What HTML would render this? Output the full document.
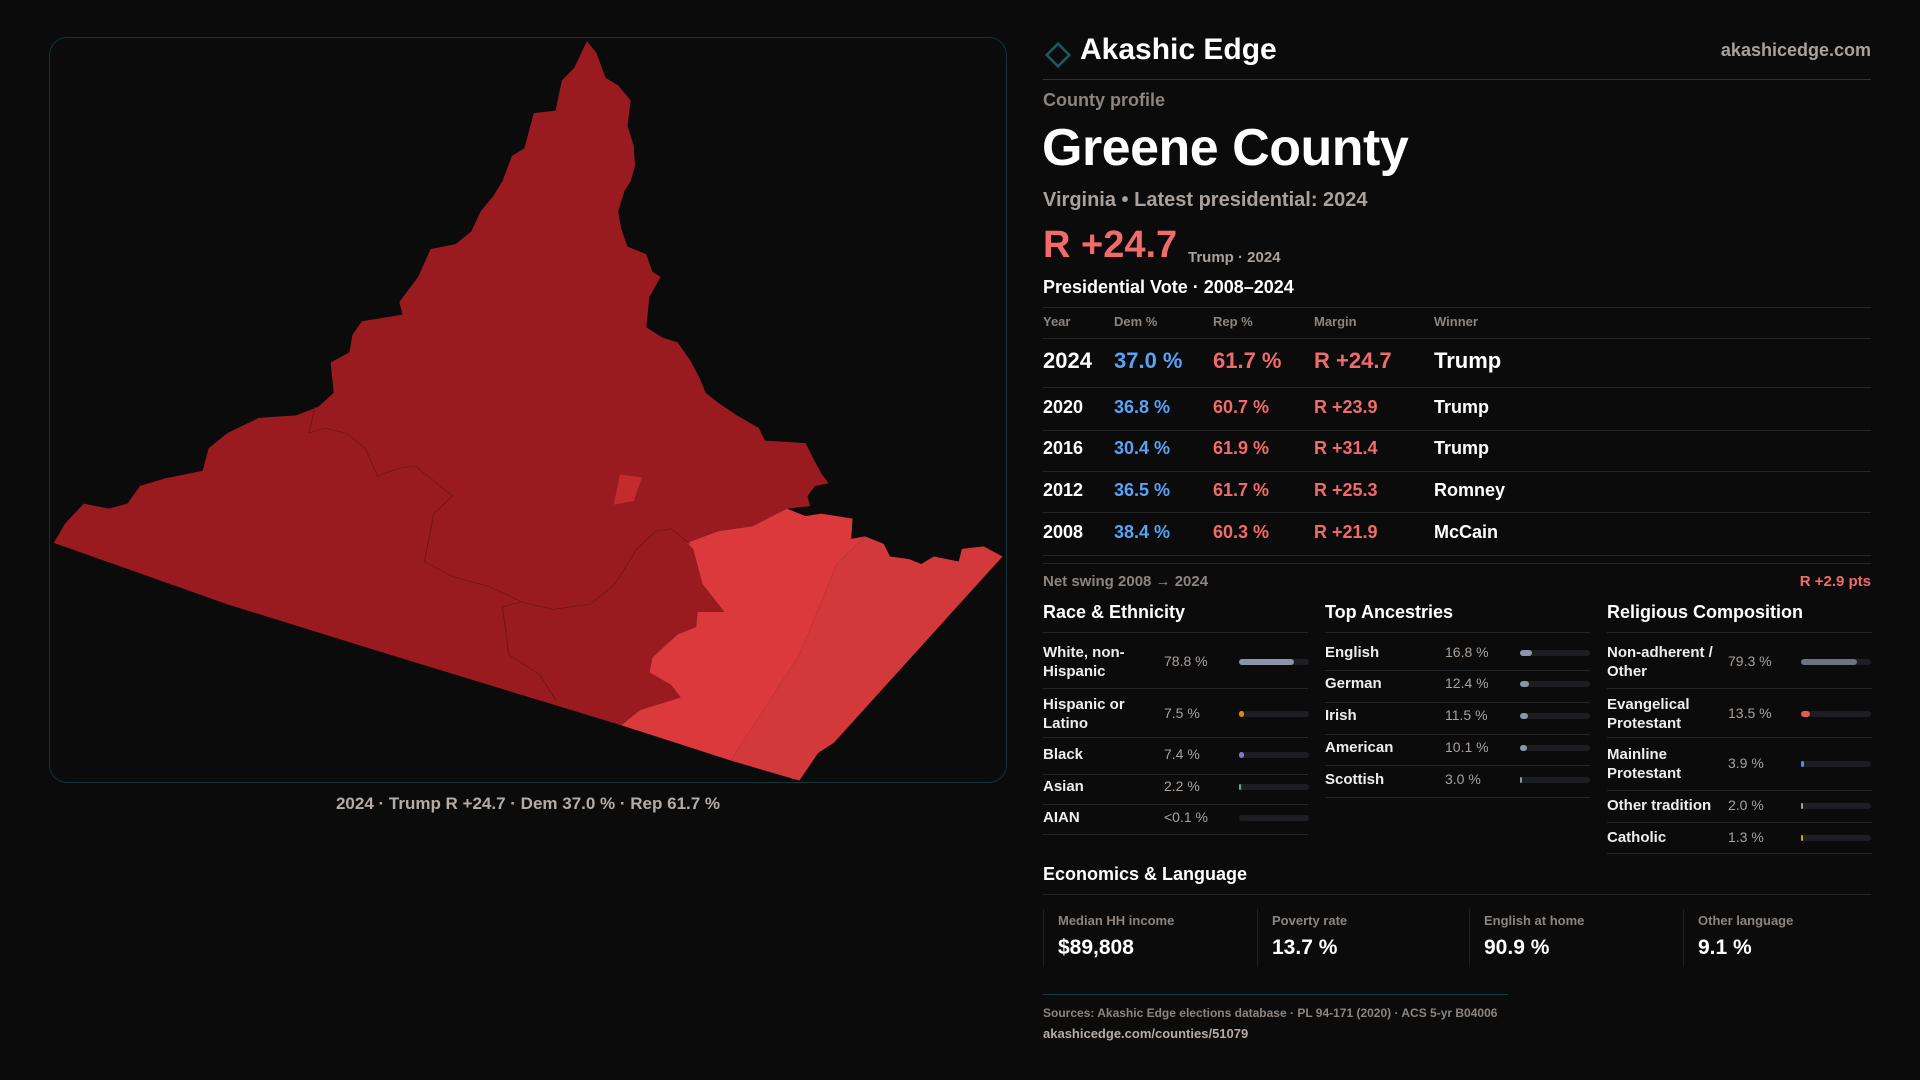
<!DOCTYPE html>
<html><head><meta charset="utf-8"><style>
*{margin:0;padding:0;box-sizing:border-box}
body{width:1920px;height:1080px;background:#0b0b0c;font-family:"Liberation Sans",sans-serif;color:#f2f2f2;position:relative;overflow:hidden}
.a{position:absolute;white-space:nowrap}
.hl{position:absolute;height:1px;background:#24262a}
.lbl{font-size:15px;font-weight:bold;color:#eee;line-height:19px}
.val{font-size:14px;color:#a9a19b}
.track{position:absolute;height:6px;border-radius:3px;background:#1c1e22}
.fill{position:absolute;left:0;top:0;height:6px;border-radius:3px}
</style></head><body>
<div class="a" style="left:49px;top:37px;width:958px;height:746px;border:1px solid #12343a;border-radius:18px;background:#0b0b0c"></div>
<svg class="a" style="left:0;top:0" width="1920" height="1080">
<g transform="translate(40,30) scale(0.625,0.5038)">
<polygon fill="#9a1b1f" points="875,22 890,45 905,95 925,110 945,140 940,190 950,230 952,270 945,300 935,320 925,360 930,395 940,430 970,445 980,480 993,490 975,530 970,590 995,610 1020,620 1040,655 1055,690 1065,720 1085,740 1115,765 1150,790 1160,815 1225,820 1235,845 1250,880 1262,900 1240,905 1228,925 1232,945 1195,950 1140,985 1085,995 1035,1018 1045,1030 1060,1100 1095,1155 1052,1155 1050,1185 1020,1200 980,1245 975,1275 1010,1300 1025,1325 960,1350 930,1380 560,1240 300,1140 22,1018 40,980 70,940 110,950 140,940 160,905 200,890 260,875 270,830 300,800 350,770 410,765 445,748 470,720 465,660 495,640 500,605 515,578 580,565 575,540 605,490 625,435 665,425 690,400 705,360 725,330 740,300 755,250 775,235 790,165 825,160 835,100 855,75"/>
<polygon fill="#dc393c" points="1035,1018 1085,995 1140,985 1195,950 1225,965 1250,960 1300,970 1298,1010 1320,1005 1275,1060 1215,1240 1105,1450 930,1380 960,1350 1025,1325 1010,1300 975,1275 980,1245 1020,1200 1050,1185 1052,1155 1095,1155 1060,1100 1045,1030"/>
<polygon fill="#d3383a" points="1320,1005 1350,1020 1360,1045 1390,1050 1410,1060 1430,1045 1470,1055 1475,1030 1510,1025 1540,1045 1270,1415 1245,1435 1215,1490 1105,1450 1215,1240 1275,1060"/>
<polygon fill="#c52b2d" points="928,882 963,888 950,935 918,942"/>
<polyline fill="none" stroke="#6e1416" stroke-width="1.5" points="440,748 430,800 455,790 490,800 520,830 540,885 575,870 600,865 660,925 630,960 615,1055 660,1085 720,1105 770,1135 820,1150 880,1140 920,1100 955,1030 985,995 1010,990 1040,1020"/>
<polyline fill="none" stroke="#6e1416" stroke-width="1.5" points="770,1135 740,1145 750,1240 800,1280 825,1330"/>
</g></svg>
<div class="a" style="left:0;width:1056px;top:794px;text-align:center;font-size:17px;font-weight:bold;color:#b5aca5">2024 · Trump R +24.7 · Dem 37.0 % · Rep 61.7 %</div>

<svg class="a" style="left:1043px;top:40px" width="30" height="30"><rect x="7" y="7" width="16" height="16" transform="rotate(45 15 15)" fill="none" stroke="#1b5a63" stroke-width="2.5"/></svg>
<div class="a" style="left:1080px;top:33px;font-size:30px;font-weight:bold;color:#fff">Akashic Edge</div>
<div class="a" style="right:49px;top:40px;font-size:18px;font-weight:bold;color:#a9a19b">akashicedge.com</div>
<div class="hl" style="left:1043px;width:828px;top:79px;background:#123d45"></div>
<div class="a" style="left:1043px;top:90px;font-size:18px;font-weight:bold;color:#8c857f">County profile</div>
<div class="a" style="left:1042px;top:118px;font-size:52px;font-weight:bold;color:#fff;letter-spacing:-0.5px">Greene County</div>
<div class="a" style="left:1043px;top:189px;font-size:20px;font-weight:bold;color:#a9a19b">Virginia • Latest presidential: 2024</div>
<div class="a" style="left:1043px;top:224px;font-size:38px;font-weight:bold;color:#f26b6b">R +24.7</div>
<div class="a" style="left:1188px;top:249px;font-size:15px;font-weight:bold;color:#a9a19b">Trump · 2024</div>
<div class="a" style="left:1043px;top:277px;font-size:18px;font-weight:bold;color:#fff">Presidential Vote · 2008–2024</div>
<div class="hl" style="left:1043px;width:828px;top:307px"></div>
<div id="tbl"></div>
<div class="hl" style="left:1043px;width:828px;top:563px"></div>
<div class="a" style="left:1043px;top:573px;font-size:15px;font-weight:bold;color:#8c857f">Net swing 2008 → 2024</div>
<div class="a" style="right:49px;top:573px;font-size:15px;font-weight:bold;color:#f26b6b">R +2.9 pts</div>
<div id="sections"></div>

<div class="a" style="left:1043px;top:864px;font-size:18px;font-weight:bold;color:#fff">Economics &amp; Language</div>
<div class="hl" style="left:1043px;width:828px;top:894px"></div>
<div id="econ"></div>
<div class="hl" style="left:1043px;width:465px;top:994px;background:#123d45"></div>
<div class="a" style="left:1043px;top:1006px;font-size:12px;font-weight:bold;color:#8c857f">Sources: Akashic Edge elections database · PL 94-171 (2020) · ACS 5-yr B04006</div>
<div class="a" style="left:1043px;top:1026px;font-size:13px;font-weight:bold;color:#b5aca5">akashicedge.com/counties/51079</div>

<script>
const years=[2024,2020,2016,2012,2008];
const demPct=[37.0,36.8,30.4,36.5,38.4];
const repPct=[61.7,60.7,61.9,61.7,60.3];
const margins=[24.7,23.9,31.4,25.3,21.9];
const winners=["Trump","Trump","Trump","Romney","McCain"];
const raceLabels=["White, non-Hispanic","Hispanic or Latino","Black","Asian","AIAN"];
const raceValues=[78.8,7.5,7.4,2.2,0.05];
const raceText=["78.8 %","7.5 %","7.4 %","2.2 %","<0.1 %"];
const ancLabels=["English","German","Irish","American","Scottish"];
const ancValues=[16.8,12.4,11.5,10.1,3.0];
const relLabels=["Non-adherent / Other","Evangelical Protestant","Mainline Protestant","Other tradition","Catholic"];
const relValues=[79.3,13.5,3.9,2.0,1.3];
const econLabels=["Median HH income","Poverty rate","English at home","Other language"];
const econValues=["$89,808","13.7 %","90.9 %","9.1 %"];

function mk(parent,html,style,name,inter){const d=document.createElement('div');d.className='a';d.innerHTML=html;d.style.cssText=style;


parent.appendChild(d);return d;}
const tbl=document.getElementById('tbl');
const hdrs=["Year","Dem %","Rep %","Margin","Winner"],cx=[1043,1114,1213,1314,1434];
hdrs.forEach((h,i)=>mk(tbl,h,`left:${cx[i]}px;top:314px;font-size:13px;font-weight:bold;color:#8c857f`,'table-header',false));
const hl=(p,l,w,t)=>{const d=document.createElement('div');d.className='hl';d.style.cssText=`left:${l}px;width:${w}px;top:${t}px`;


p.appendChild(d);};
hl(tbl,1043,828,338);
const rowY=[361,408,449,491,533],sepY=[387,430,471,512,555];
years.forEach((y,i)=>{const fs=i==0?22:18,t=rowY[i]-fs*0.6;
mk(tbl,y,`left:1043px;top:${t}px;font-size:${fs}px;font-weight:bold;color:#fff`,'row-year',false);
mk(tbl,demPct[i].toFixed(1)+' %',`left:1114px;top:${t}px;font-size:${fs}px;font-weight:bold;color:#5aa2f5`,'row-dem',false);
mk(tbl,repPct[i].toFixed(1)+' %',`left:1213px;top:${t}px;font-size:${fs}px;font-weight:bold;color:#f26b6b`,'row-rep',false);
mk(tbl,'R +'+margins[i].toFixed(1),`left:1314px;top:${t}px;font-size:${fs}px;font-weight:bold;color:#f26b6b`,'row-margin',false);
mk(tbl,winners[i],`left:1434px;top:${t}px;font-size:${fs}px;font-weight:bold;color:#fff`,'row-winner',false);
hl(tbl,1043,828,sepY[i]);});

const sec=document.getElementById('sections');
function section(x,title,labels,vals,texts,colors,centers,seps,valX,barX){
 mk(sec,title,`left:${x}px;top:602px;font-size:18px;font-weight:bold;color:#fff`,'section-title',false);
 hl(sec,x,265,632);
 labels.forEach((l,i)=>{const c=centers[i];
  const two=l.length>16;
  mk(sec,l,`left:${x}px;top:${c-(two?19:10)}px;width:120px;white-space:normal` ,'stat-label',false).className='a lbl';
  mk(sec,texts?texts[i]:vals[i].toFixed(1)+' %',`left:${valX}px;top:${c-9}px`,'stat-value',false).className='a val';
  const tr=mk(sec,'',`left:${barX}px;top:${c-3}px;width:70px`,'stat-bar-track',false);tr.className='track';
  const f=document.createElement('div');f.className='fill';
  
  
  f.style.width=Math.max(vals[i]/100*70,vals[i]>=1?2:0)+'px';f.style.background=colors[i];tr.appendChild(f);
  hl(sec,x,265,seps[i]);});
}
section(1043,"Race &amp; Ethnicity",raceLabels,raceValues,raceText,["#8a95a8","#d98b0c","#8b70d8","#2fbf8c","#555"],[662,714,755,787,818],[688,737,774,804,834],1164,1239);
section(1325,"Top Ancestries",ancLabels,ancValues,null,["#8a95a8","#8a95a8","#8a95a8","#8a95a8","#8a95a8"],[653,684,716,748,780],[670,702,734,765,797],1445,1520);
section(1607,"Religious Composition",relLabels,relValues,null,["#6b7280","#e05a5a","#4a8fe8","#9ca3af","#d9a11a"],[662,714,764,806,838],[688,737,790,822,853],1728,1801);

const ec=document.getElementById('econ'),ex=[1043,1257,1469,1683];
econLabels.forEach((l,i)=>{
 mk(ec,'',`left:${ex[i]}px;top:909px;width:1px;height:58px;background:#1e2024`,'econ-divider',false);
 mk(ec,l,`left:${ex[i]+15}px;top:913px;font-size:13px;font-weight:bold;color:#8c857f`,'econ-label',false);
 mk(ec,econValues[i],`left:${ex[i]+15}px;top:936px;font-size:21px;font-weight:bold;color:#fff`,'econ-value',false);
});
</script>
</body></html>
